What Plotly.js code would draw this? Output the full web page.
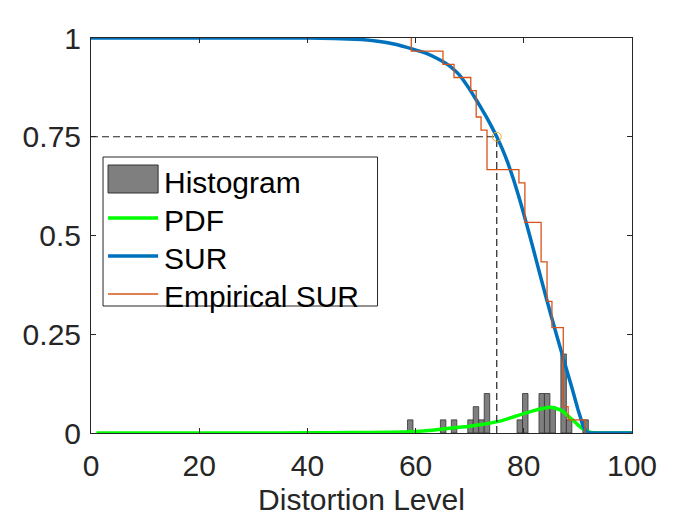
<!DOCTYPE html>
<html>
<head>
<meta charset="utf-8">
<script src="https://cdn.plot.ly/plotly-3.0.1.min.js"></script>
<style>html,body{margin:0;padding:0;background:#fff;}#chart{width:700px;height:525px;}</style>
</head>
<body>
<div id="chart"></div>
<script>
// Histogram (probability per bin)
var binCenters = [59.01, 65.09, 67.11, 70.15, 71.16, 72.17, 73.19, 79.26, 80.27, 83.31, 84.32, 85.34, 87.36, 88.38, 91.42];
var binProb    = [0.0333, 0.0333, 0.0333, 0.0333, 0.0667, 0.0333, 0.1, 0.0333, 0.1, 0.1, 0.1, 0.0667, 0.2, 0.0333, 0.0333];

// Fitted PDF
var pdfX = [1, 20, 30, 40, 48, 55, 59, 63, 66.3, 70, 72.5, 75.6, 78.6, 81.7, 83.5, 84.8, 86, 87.3, 88.5, 89.2, 90.2, 91, 92, 93, 95, 100];
var pdfY = [0, 0, 0, 0.0005, 0.001, 0.002, 0.003, 0.007, 0.012, 0.017, 0.022, 0.030, 0.043, 0.056, 0.062, 0.065, 0.062, 0.054, 0.039, 0.031, 0.018, 0.010, 0.003, 0.0005, 0, 0];

// Fitted survival curve SUR
var surX = [0, 20, 40, 45, 50, 53, 56, 59.5, 62, 64, 66, 67, 68, 69, 70, 71, 72, 73, 74, 75, 76, 77, 78, 79, 80, 81, 82, 83, 84, 85, 86, 87, 88, 89, 90, 90.5, 91, 91.5, 92, 92.5, 100];
var surY = [1, 1, 1, 0.999, 0.996, 0.992, 0.985, 0.972, 0.961, 0.948, 0.932, 0.921, 0.908, 0.890, 0.870, 0.848, 0.8255, 0.802, 0.777, 0.75, 0.72, 0.6855, 0.646, 0.602, 0.5545, 0.5045, 0.453, 0.401, 0.3495, 0.2995, 0.251, 0.2035, 0.1565, 0.1095, 0.060, 0.038, 0.016, 0.005, 0.001, 0, 0];

// Empirical survival (stairs)
var empX = [59.2, 59.2, 65.06, 67.1, 70.2, 71.2, 72.1, 73.2, 79.1, 80.2, 83.2, 84.3, 85.2, 87.3, 88.2, 91.3];
var empY = [1, 0.9667, 0.9333, 0.9, 0.8667, 0.8, 0.7667, 0.6667, 0.6333, 0.5333, 0.4333, 0.3333, 0.2667, 0.0667, 0.0333, 0];

// Threshold point
var thrX = [75];
var thrY = [0.75];

// Legend entries
var legendNames = ['Histogram', 'PDF', 'SUR', 'Empirical SUR'];

var font = "'Liberation Sans', Arial, Helvetica, sans-serif";
var axc = '#262626';
var cGreen = '#00ff00', cBlue = '#0072bd', cOrange = '#d95319', cGray = '#7f7f7f', cEdge = '#333333';

var traces = [
  {type: 'bar', x: binCenters, y: binProb, width: 1.0125, name: legendNames[0], showlegend: false,
   marker: {color: cGray, line: {color: cEdge, width: 0.8}}},
  {type: 'scatter', mode: 'lines', x: pdfX, y: pdfY, name: legendNames[1], showlegend: false,
   line: {color: cGreen, width: 3.5, shape: 'spline', smoothing: 0.5}},
  {type: 'scatter', mode: 'lines', x: surX, y: surY, name: legendNames[2], showlegend: false,
   line: {color: cBlue, width: 3.5, shape: 'spline', smoothing: 0.4}},
  {type: 'scatter', mode: 'lines', x: empX, y: empY, name: legendNames[3], showlegend: false,
   line: {color: cOrange, width: 1.3, shape: 'hv'}},
  {type: 'scatter', mode: 'lines', x: [0, thrX[0]], y: [thrY[0], thrY[0]], showlegend: false, hoverinfo: 'skip',
   line: {color: '#222222', width: 1.2, dash: '7px,4px'}},
  {type: 'scatter', mode: 'lines', x: [thrX[0], thrX[0]], y: [0, thrY[0]], showlegend: false, hoverinfo: 'skip',
   line: {color: '#222222', width: 1.2, dash: '7px,4px'}},
  {type: 'scatter', mode: 'markers', x: thrX, y: thrY, showlegend: false,
   marker: {symbol: 'circle-open', size: 9, color: '#edb120', line: {width: 1, color: '#edb120'}}}
];

// custom legend box (paper coords: plot area 540 x 395 px)
function px(v) { return (v - 92) / 540; }
function py(v) { return (433 - v) / 395; }
var legRows = [180.5, 218, 256, 294];
var shapes = [
  {type: 'rect', xref: 'paper', yref: 'paper', x0: px(104), x1: px(378), y0: py(306), y1: py(157),
   fillcolor: '#ffffff', line: {color: axc, width: 1}, layer: 'above'},
  {type: 'rect', xref: 'paper', yref: 'paper', x0: px(109), x1: px(159), y0: py(193), y1: py(165),
   fillcolor: cGray, line: {color: cEdge, width: 1}, layer: 'above'},
  {type: 'line', xref: 'paper', yref: 'paper', x0: px(109), x1: px(159), y0: py(legRows[1]), y1: py(legRows[1]),
   line: {color: cGreen, width: 3.5}, layer: 'above'},
  {type: 'line', xref: 'paper', yref: 'paper', x0: px(109), x1: px(159), y0: py(legRows[2]), y1: py(legRows[2]),
   line: {color: cBlue, width: 3.5}, layer: 'above'},
  {type: 'line', xref: 'paper', yref: 'paper', x0: px(109), x1: px(159), y0: py(legRows[3]), y1: py(legRows[3]),
   line: {color: cOrange, width: 1.3}, layer: 'above'}
];
var annotations = legendNames.map(function (n, i) {
  return {xref: 'paper', yref: 'paper', x: px(163), y: py(legRows[i] + 2), xanchor: 'left', yanchor: 'middle',
          text: n, showarrow: false, font: {size: 30, color: '#000000', family: font}};
});

var layout = {
  width: 700, height: 525,
  margin: {l: 91, r: 68, t: 38, b: 92},
  paper_bgcolor: '#ffffff', plot_bgcolor: '#ffffff',
  font: {family: font, color: axc, size: 30},
  showlegend: false,
  bargap: 0,
  shapes: shapes,
  annotations: annotations,
  xaxis: {range: [0, 100], tickvals: [0, 20, 40, 60, 80, 100], ticks: 'inside', ticklen: 5, tickcolor: axc,
          showline: true, linecolor: axc, linewidth: 1, mirror: 'ticks', showgrid: false, zeroline: false,
          tickfont: {size: 30, color: axc}, ticklabelstandoff: 6,
          title: {text: 'Distortion Level', font: {size: 30, color: axc}, standoff: 7}},
  yaxis: {range: [0, 1], tickvals: [0, 0.25, 0.5, 0.75, 1], ticktext: ['0', '0.25', '0.5', '0.75', '1'],
          ticks: 'inside', ticklen: 5, tickcolor: axc,
          showline: true, linecolor: axc, linewidth: 1, mirror: 'ticks', showgrid: false, zeroline: false,
          tickfont: {size: 30, color: axc}, ticklabelstandoff: 3}
};

Plotly.newPlot('chart', traces, layout, {displayModeBar: false, staticPlot: true});
</script>
</body>
</html>
